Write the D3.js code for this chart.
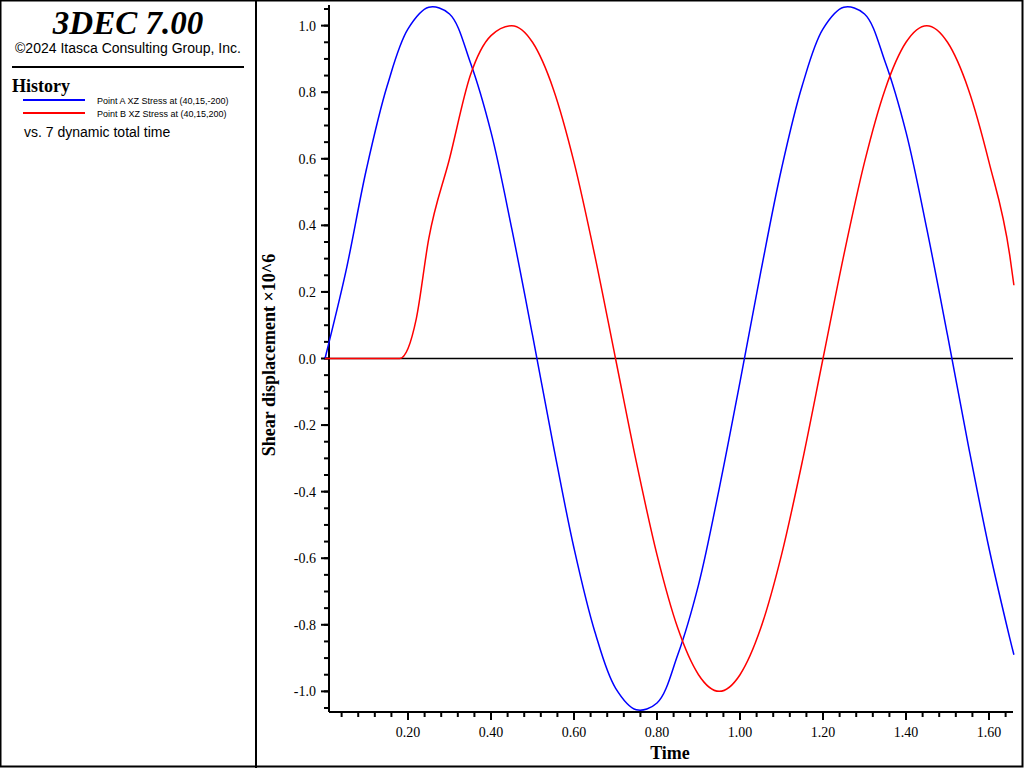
<!DOCTYPE html>
<html>
<head>
<meta charset="UTF-8">
<script src="https://d3js.org/d3.v7.min.js"></script>
<style>body{margin:0;background:#fff}</style>
</head>
<body>
<script>
var times = [0,0.05,0.10,0.15,0.20,0.25,0.30,0.35,0.40,0.45,0.50,0.55,0.60,0.65,0.70,0.75,0.80,0.85,0.90,0.95,1.00,1.05,1.10,1.15,1.20,1.25,1.30,1.35,1.40,1.45,1.50,1.55,1.60,1.65,1.66];
var pointA = [0,0.26,0.57,0.82,0.99,1.055,1.035,0.89,0.68,0.39,0.07,-0.26,-0.57,-0.82,-0.99,-1.055,-1.035,-0.89,-0.68,-0.39,-0.07,0.26,0.57,0.82,0.99,1.055,1.035,0.89,0.68,0.39,0.07,-0.26,-0.57,-0.84,-0.89];
var timesB = [0,0.05,0.10,0.15,0.18,0.20,0.22,0.25,0.30,0.35,0.40,0.45,0.50,0.55,0.60,0.65,0.70,0.75,0.80,0.85,0.90,0.95,1.00,1.05,1.10,1.15,1.20,1.25,1.30,1.35,1.40,1.45,1.50,1.55,1.60,1.65,1.66];
var pointB = [0,0,0,0,0,0.03,0.12,0.36,0.6,0.85,0.97,1.0,0.95,0.81,0.59,0.31,0,-0.31,-0.59,-0.81,-0.95,-1.0,-0.95,-0.81,-0.59,-0.31,0,0.31,0.59,0.81,0.95,1.0,0.95,0.81,0.59,0.31,0.22];
var xTicks = [0.2,0.4,0.6,0.8,1.0,1.2,1.4,1.6];
var yTicks = [-1.0,-0.8,-0.6,-0.4,-0.2,0,0.2,0.4,0.6,0.8,1.0];
var legend = ["Point A XZ Stress at (40,15,-200)", "Point B XZ Stress at (40,15,200)"];

var w = 1024, h = 768;
var svg = d3.select("body").append("svg").attr("width", w).attr("height", h);
svg.append("rect").attr("x",0.5).attr("y",0.5).attr("width",w-2).attr("height",h-2)
  .attr("fill","none").attr("stroke","#000").attr("stroke-width",2);
svg.append("line").attr("x1",256).attr("x2",256).attr("y1",0).attr("y2",h).attr("stroke","#000").attr("stroke-width",2);

// left panel
svg.append("text").attr("x",128).attr("y",34).attr("text-anchor","middle")
  .style("font","italic bold 33px 'Liberation Serif', serif").text("3DEC 7.00");
svg.append("text").attr("x",128).attr("y",53).attr("text-anchor","middle")
  .style("font","14px 'Liberation Sans', Arial, sans-serif").text("\u00a92024 Itasca Consulting Group, Inc.");
svg.append("line").attr("x1",12).attr("x2",244).attr("y1",67).attr("y2",67).attr("stroke","#000").attr("stroke-width",2);
svg.append("text").attr("x",12).attr("y",92).style("font","bold 18px 'Liberation Serif', serif").text("History");
var colors = ["#0000ff","#ff0000"];
legend.forEach(function(d,i){
  svg.append("line").attr("x1",23).attr("x2",85).attr("y1",100+i*13).attr("y2",100+i*13)
    .attr("stroke",colors[i]).attr("stroke-width",2);
  svg.append("text").attr("x",97).attr("y",104+i*13).style("font","9px 'Liberation Sans', Arial, sans-serif").text(d);
});
svg.append("text").attr("x",24).attr("y",137).style("font","14px 'Liberation Sans', Arial, sans-serif").text("vs. 7 dynamic total time");

// scales
var x = d3.scaleLinear().domain([0.0096,1.6578]).range([329,1013]);
var y = d3.scaleLinear().domain([-1.062,1.062]).range([712,5]);

var g = svg.append("g");
g.append("line").attr("x1",329).attr("x2",1013).attr("y1",712).attr("y2",712).attr("stroke","#000").attr("stroke-width",2);
g.append("line").attr("x1",329).attr("x2",329).attr("y1",5).attr("y2",712).attr("stroke","#000").attr("stroke-width",2);
d3.range(0.04,1.66,0.04).forEach(function(t){
  g.append("line").attr("x1",x(t)).attr("x2",x(t)).attr("y1",712).attr("y2",717).attr("stroke","#000").attr("stroke-width",2);
});
xTicks.forEach(function(t){
  g.append("line").attr("x1",x(t)).attr("x2",x(t)).attr("y1",712).attr("y2",720).attr("stroke","#000").attr("stroke-width",2);
  g.append("text").attr("x",x(t)).attr("y",737).attr("text-anchor","middle")
    .style("font","14px 'Liberation Serif', serif").text(t.toFixed(2));
});
d3.range(-1.05,1.06,0.05).forEach(function(v){
  g.append("line").attr("x1",324).attr("x2",329).attr("y1",y(v)).attr("y2",y(v)).attr("stroke","#000").attr("stroke-width",2);
});
yTicks.forEach(function(v){
  g.append("line").attr("x1",321).attr("x2",329).attr("y1",y(v)).attr("y2",y(v)).attr("stroke","#000").attr("stroke-width",2);
  g.append("text").attr("x",316).attr("y",y(v)+5).attr("text-anchor","end")
    .style("font","14px 'Liberation Serif', serif").text(v.toFixed(1));
});
g.append("text").attr("transform","translate(275,355) rotate(-90)").attr("text-anchor","middle")
  .style("font","bold 18px 'Liberation Serif', serif").text("Shear displacement \u00d710^6");
g.append("text").attr("x",670).attr("y",759).attr("text-anchor","middle")
  .style("font","bold 18px 'Liberation Serif', serif").text("Time");

g.append("line").attr("x1",329).attr("x2",1013).attr("y1",y(0)).attr("y2",y(0)).attr("stroke","#000").attr("stroke-width",1.5);

var lineA = d3.line().x(function(d){return x(d[0]);}).y(function(d){return y(d[1]);}).curve(d3.curveCatmullRom);
var lineB = d3.line().x(function(d){return x(d[0]);}).y(function(d){return y(d[1]);}).curve(d3.curveMonotoneX);
g.append("path").datum(d3.zip(times,pointA)).attr("d",lineA).attr("fill","none").attr("stroke","#0000ff").attr("stroke-width",1.5);
g.append("path").datum(d3.zip(timesB,pointB)).attr("d",lineB).attr("fill","none").attr("stroke","#ff0000").attr("stroke-width",1.5);
</script>
</body>
</html>
